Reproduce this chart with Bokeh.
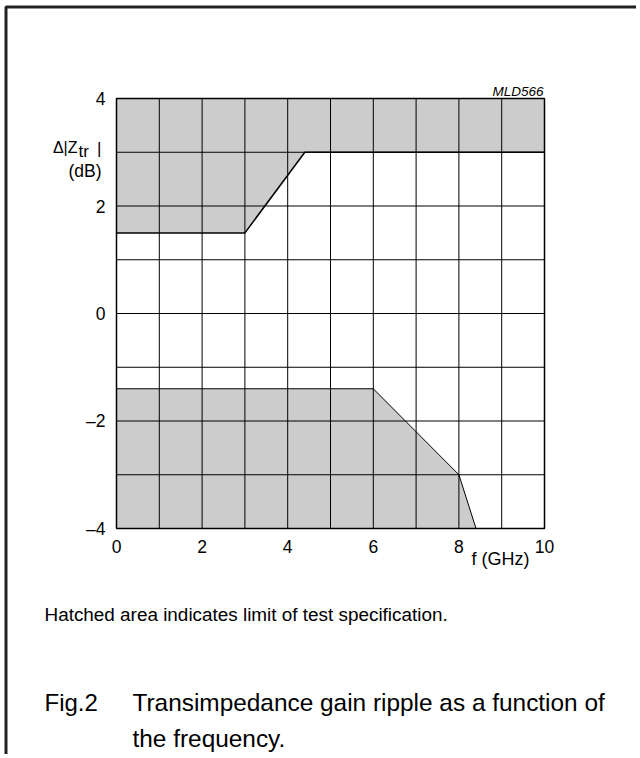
from bokeh.plotting import figure
from bokeh.models import Range1d
from bokeh.core.properties import value
from bokeh.embed import file_html
from bokeh.resources import INLINE

# ---- data ----
x_grid_ticks = [0, 1, 2, 3, 4, 5, 6, 7, 8, 9, 10]
y_grid_ticks = [-4, -3, -2, -1, 0, 1, 2, 3, 4]
x_label_ticks = [0, 2, 4, 6, 8, 10]
x_label_text = ["0", "2", "4", "6", "8", "10"]
y_label_ticks = [-4, -2, 0, 2, 4]
y_label_text = ["\u20134", "\u20132", "0", "2", "4"]

# upper spec limit: frequency (GHz) vs ripple (dB)
upper_f = [0, 3, 4.4, 10]
upper_db = [1.5, 1.5, 3, 3]
# lower spec limit
lower_f = [0, 6, 8, 8.4]
lower_db = [-1.4, -1.4, -3, -4]

X_MIN, X_MAX, Y_MIN, Y_MAX = 0, 10, -4, 4

# ---- layout (pixels) ----
FONT = "Liberation Sans"
GRAY = "#cccccc"
W, H = 636, 754
PL, PR, PT, PB = 116, 544, 98, 528          # chart area in canvas pixels
SX = (PR - PL) / (X_MAX - X_MIN)
SY = (PB - PT) / (Y_MAX - Y_MIN)

def dx(px):  # canvas pixel -> data x
    return X_MIN + (px - PL) / SX

def dy(py):  # canvas pixel -> data y
    return Y_MAX - (py - PT) / SY

p = figure(frame_width=W, frame_height=H, min_border=0,
           x_range=Range1d(dx(0), dx(W)), y_range=Range1d(dy(H), dy(0)),
           output_backend="svg", toolbar_location=None)
p.axis.visible = False
p.grid.visible = False
p.outline_line_color = None

# shaded (limit) areas
p.patch([X_MIN] + upper_f + [X_MAX], [Y_MAX] + upper_db + [Y_MAX],
        fill_color=GRAY, line_color=None)
p.patch([X_MIN] + lower_f + [X_MIN], [lower_db[0]] + lower_db + [Y_MIN],
        fill_color=GRAY, line_color=None)

# grid
p.segment(x0=x_grid_ticks, x1=x_grid_ticks, y0=[Y_MIN] * len(x_grid_ticks),
          y1=[Y_MAX] * len(x_grid_ticks), line_color="black", line_width=1)
p.segment(x0=[X_MIN] * len(y_grid_ticks), x1=[X_MAX] * len(y_grid_ticks),
          y0=y_grid_ticks, y1=y_grid_ticks, line_color="black", line_width=1)

# limit lines
p.line(upper_f, upper_db, line_color="black", line_width=1.5)
p.line(lower_f, lower_db, line_color="black", line_width=1.0)

# frame
p.quad(left=[X_MIN], right=[X_MAX], bottom=[Y_MIN], top=[Y_MAX],
       fill_color=None, line_color="black", line_width=1.5)

# tick labels
p.text(x=x_label_ticks, y=[dy(546)] * len(x_label_ticks), text=x_label_text,
       text_font=value(FONT), text_font_size="17.5px", text_align="center",
       text_baseline="middle", text_color="black")
p.text(x=[dx(PL - 11)] * len(y_label_ticks), y=y_label_ticks, text=y_label_text,
       text_font=value(FONT), text_font_size="17.5px", text_align="right",
       text_baseline="middle", text_color="black")

def lab(px, py, text, size, align="left", baseline="alphabetic", style="normal"):
    p.text(x=[dx(px)], y=[dy(py)], text=[text], text_font=value(FONT),
           text_font_size=size, text_align=align, text_baseline=baseline,
           text_font_style=style, text_color="black")

lab(543, 91, "MLD566", "13.5px", align="right", style="italic")
lab(77, 147, "\u0394|Z", "16px", align="right")
lab(78, 151, "tr", "17px", align="left")
lab(101, 148, "|", "17px", align="right")
lab(101, 170, "(dB)", "17.5px", align="right", baseline="middle")
lab(471, 558, "f (GHz)", "18px", baseline="middle")
lab(44, 614, "Hatched area indicates limit of test specification.", "18.9px", baseline="middle")
lab(44, 702, "Fig.2", "24px", baseline="middle")
lab(132, 702, "Transimpedance gain ripple as a function of", "24.4px", baseline="middle")
lab(132, 738, "the frequency.", "24.4px", baseline="middle")

# page border (open to the right and bottom, as on the scanned page)
p.line([dx(5.5), dx(5.5), dx(W + 10)], [dy(H + 10), dy(6.5), dy(6.5)],
       line_color="#222222", line_width=3)

open("out.html", "w").write(file_html(p, INLINE))
